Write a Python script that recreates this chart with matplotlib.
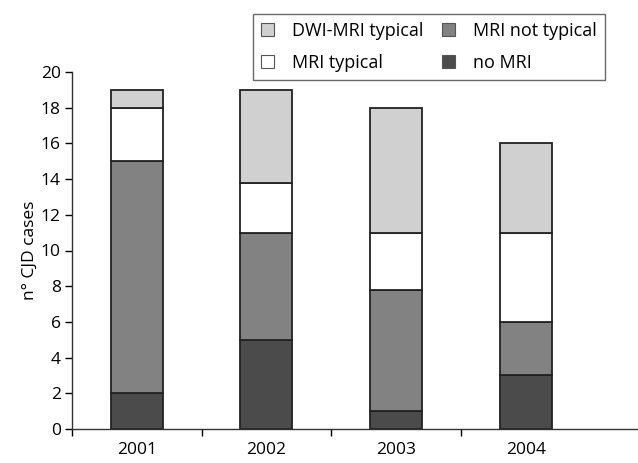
import matplotlib.pyplot as plt
import numpy as np

years = ["2001", "2002", "2003", "2004"]
no_mri = [2, 5, 1, 3]
mri_not_typical = [13, 6, 6.8, 3]
mri_typical = [3, 2.8, 3.2, 5]
dwi_mri_typical = [1, 5.2, 7, 5]

series = [
    ("no MRI", no_mri, "#4b4b4b"),
    ("MRI not typical", mri_not_typical, "#828282"),
    ("MRI typical", mri_typical, "#ffffff"),
    ("DWI-MRI typical", dwi_mri_typical, "#cfd0cf"),
]

plt.rcParams["font.family"] = ["Open Sans", "DejaVu Sans"]

fig = plt.figure(figsize=(6.38, 4.63), dpi=100)
ax = fig.add_axes([72 / 638, 34 / 463, 566 / 638, 357 / 463])

x = np.arange(len(years))
bottom = np.zeros(len(years))
handles = {}
for name, vals, color in series:
    bars = ax.bar(x, vals, width=0.4, bottom=bottom, color=color,
                  edgecolor="#222222", linewidth=1.3, label=name)
    handles[name] = bars
    bottom += np.array(vals)

ax.set_xlim(-0.5, 3.867)
ax.set_ylim(0, 20)
ax.set_yticks(range(0, 21, 2))
ax.set_xticks(x)
ax.set_xticklabels(years)
ax.set_xticks([-0.5, 0.5, 1.5, 2.5], minor=True)
ax.tick_params(axis="x", which="major", length=0, pad=9, labelsize=12.5)
ax.tick_params(axis="x", which="minor", length=5, width=1, direction="out")
ax.tick_params(axis="y", length=5, width=1, labelsize=12.5, pad=3)
ax.spines["top"].set_visible(False)
ax.spines["right"].set_visible(False)
for s in ("left", "bottom"):
    ax.spines[s].set_linewidth(1)
    ax.spines[s].set_color("#333333")
ax.set_ylabel("n° CJD cases", fontsize=12.5, labelpad=2)

order = ["DWI-MRI typical", "MRI typical", "MRI not typical", "no MRI"]
leg = fig.legend([handles[n] for n in order], order, ncol=2,
                 loc="upper left", bbox_to_anchor=(253 / 638, 1 - 14 / 463),
                 fontsize=13, frameon=True, fancybox=False,
                 handlelength=0.72, handleheight=0.72, handletextpad=1.0,
                 columnspacing=1.0, labelspacing=0.75, borderpad=0.45,
                 borderaxespad=0)
leg.get_frame().set_edgecolor("#444444")
leg.get_frame().set_linewidth(1)
for h in leg.legend_handles:
    h.set_linewidth(0.8)
    h.set_edgecolor("#555555")

fig.savefig("out.png", dpi=100)
